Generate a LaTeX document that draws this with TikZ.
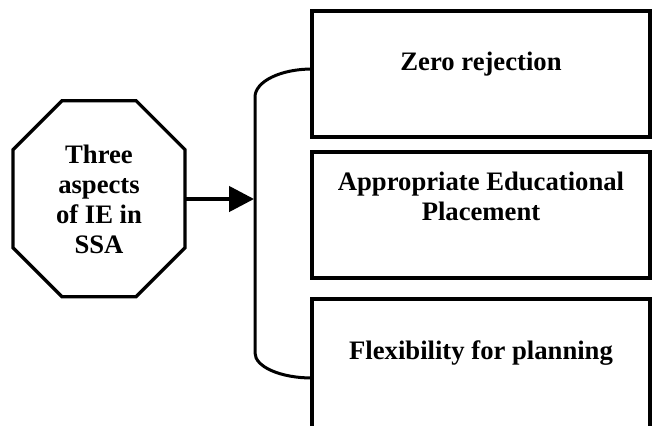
\documentclass[tikz,border=0pt]{standalone}
\usepackage{fontspec}
\setmainfont{Liberation Serif}
\usetikzlibrary{arrows.meta}

\begin{document}
\begin{tikzpicture}[x=0.75pt,y=-0.75pt,
  aspectbox/.style={draw,line width=2.6pt,minimum width=253.5pt,minimum height=94.5pt,inner sep=0pt},
  aspecttext/.style={font=\fontsize{20}{22.5}\selectfont\bfseries,align=center,inner sep=0pt}]
\clip (0,0) rectangle (652,425);
\node[aspecttext,minimum width=129pt,minimum height=147pt] (ie) at (99,199) {Three\\aspects\\of IE in\\SSA};
\draw[line width=2.4pt,line join=miter] (ie.north) ++(-37,0) -- ++(74,0) -- ++(49,49) -- ++(0,98) -- ++(-49,49) -- ++(-74,0) -- ++(-49,-49) -- ++(0,-98) -- cycle;
\node[aspectbox] (zero) at (481,74) {};
\node[aspecttext] (zerotext) at (481,64) {Zero rejection};
\node[aspectbox] (place) at (481,215) {};
\node[aspecttext] (placetext) at (481,196) {Appropriate Educational\\Placement};
\node[aspectbox,minimum height=108pt] (flex) at (481,371) {};
\node[aspecttext] (flextext) at (481,353) {Flexibility for planning};
\coordinate (btop) at (312,69);
\coordinate (bbot) at (255,353);
\coordinate (brk) at (254,199);
\draw[line width=2.25pt] (btop) arc[start angle=270,end angle=180,x radius=57,y radius=28] -- (bbot) arc[start angle=180,end angle=90,x radius=57,y radius=25];
\draw[line width=2.6pt,-{Triangle[length=18.75pt,width=19pt]}] (ie.east) -- (brk);
\end{tikzpicture}
\end{document}
